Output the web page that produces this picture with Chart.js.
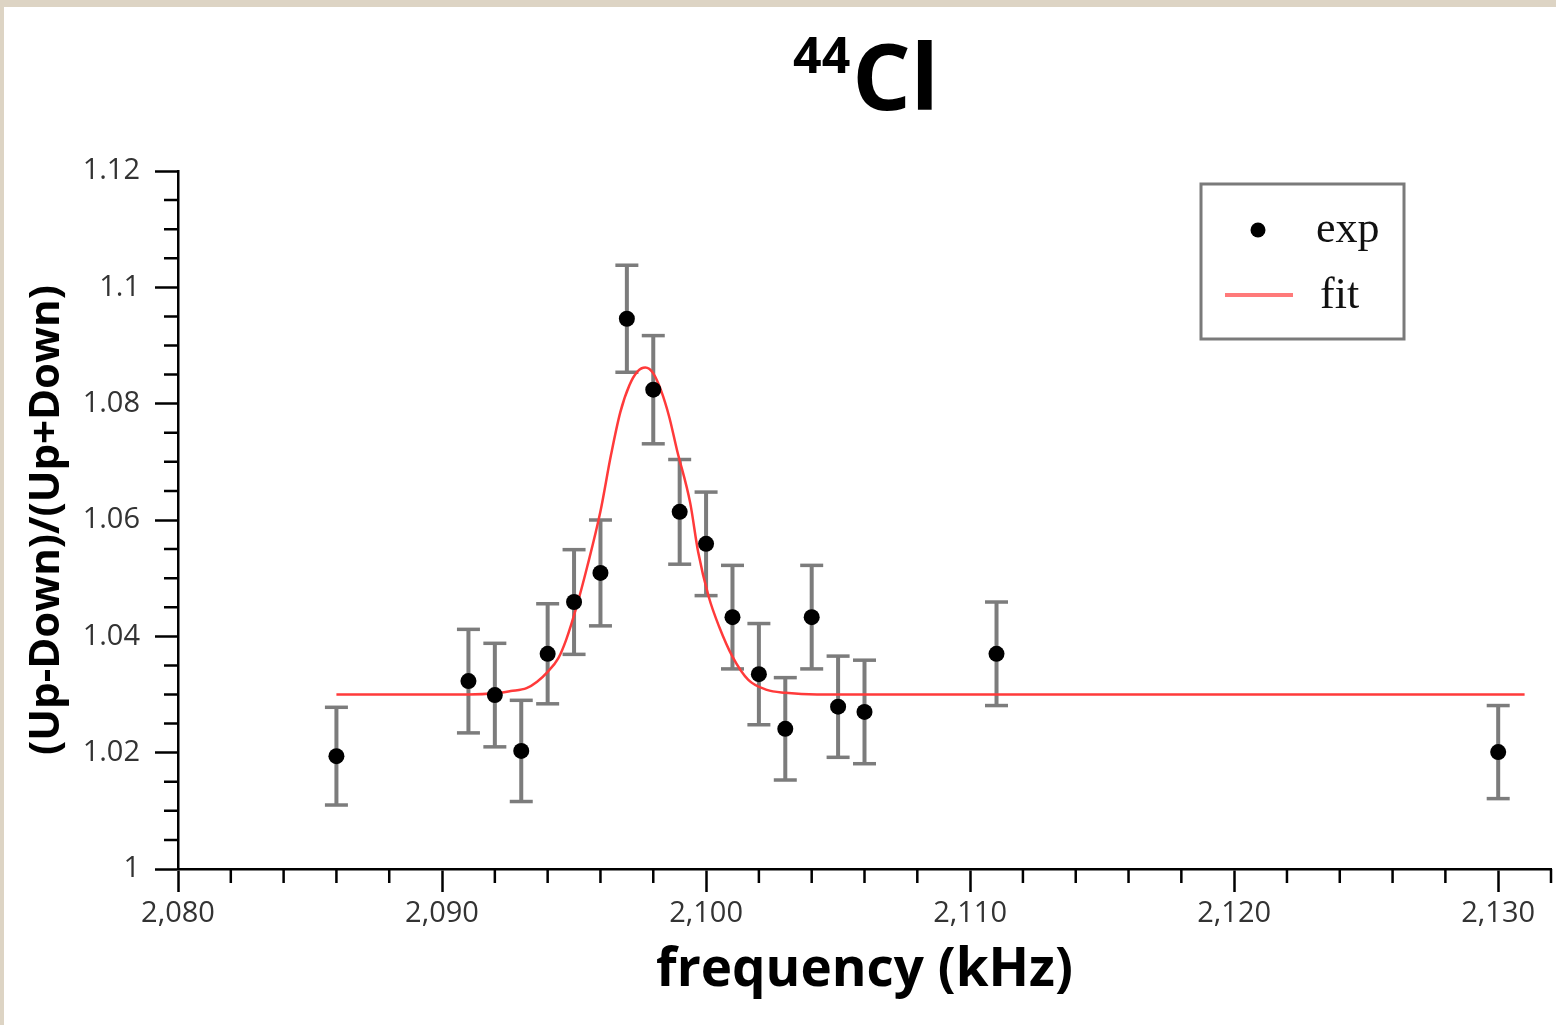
<!DOCTYPE html>
<html>
<head>
<meta charset="utf-8">
<title>44Cl resonance</title>
<script src="https://cdn.jsdelivr.net/npm/chart.js@4.4.1/dist/chart.umd.min.js"></script>
<style>
  html, body { margin: 0; padding: 0; background: #fff; }
  #wrap { width: 1556px; height: 1025px; }
</style>
</head>
<body>
<div id="wrap"><canvas id="chart" width="1556" height="1025"></canvas></div>
<script>
// measured points (frequency in kHz)
const expX = [2086, 2091, 2092, 2093, 2094, 2095, 2096, 2097, 2098, 2099, 2100, 2101, 2102, 2103, 2104, 2105, 2106, 2111, 2130]
const expY = [1.0194, 1.0323, 1.0299, 1.0203, 1.0370, 1.0459, 1.0509, 1.0946, 1.0824, 1.0614, 1.0559, 1.0433, 1.0335, 1.0241, 1.0433, 1.0279, 1.0270, 1.0370, 1.0201]
const expErr = [0.0084, 0.0089, 0.0089, 0.0087, 0.0086, 0.0090, 0.0091, 0.0092, 0.0093, 0.0090, 0.0089, 0.0089, 0.0087, 0.0088, 0.0089, 0.0087, 0.0089, 0.0089, 0.0080]

// fit curve
const fitX = [2086, 2091, 2092, 2092.6, 2093.2, 2093.6, 2094, 2094.4, 2094.7, 2095.1, 2095.5, 2096, 2096.4, 2096.75, 2097.1, 2097.4, 2097.7, 2098, 2098.3, 2098.6, 2098.9, 2099.4, 2099.7, 2100.1, 2100.5, 2101, 2101.6, 2102.3, 2103, 2104.2, 2131]
const fitY = [1.0300, 1.0300, 1.0302, 1.0306, 1.0311, 1.0322, 1.0339, 1.0362, 1.0394, 1.0452, 1.0520, 1.0615, 1.0712, 1.0785, 1.0832, 1.0855, 1.0862, 1.0852, 1.0822, 1.0778, 1.0720, 1.0629, 1.0545, 1.0468, 1.0416, 1.0365, 1.0325, 1.0308, 1.0303, 1.0300, 1.0300]

// axes
const xMin = 2080, xMax = 2132, xStep = 10, xMinor = 2
const yMin = 1, yMax = 1.12, yStep = 0.02, yMinor = 0.005

const titleSup = '44'
const titleMain = 'Cl'
const xTitle = 'frequency (kHz)'
const yTitle = '(Up-Down)/(Up+Down)'
const legendLabels = ['exp', 'fit']

const expPoints = expX.map((x, i) => ({x: x, y: expY[i]}))
const fitPoints = fitX.map((x, i) => ({x: x, y: fitY[i]}))
// each error bar: low, high, then a gap
const errPoints = []
expX.forEach((x, i) => {
    errPoints.push({x: x, y: expY[i] - expErr[i]})
    errPoints.push({x: x, y: expY[i] + expErr[i]})
    errPoints.push({x: x, y: null})
})

const pageDecor = {
    id: 'pageDecor',
    beforeDraw(chart) {
        const ctx = chart.ctx
        ctx.save()
        ctx.fillStyle = '#ddd4c4'
        ctx.fillRect(0, 0, chart.width, chart.height)
        ctx.fillStyle = '#ffffff'
        ctx.fillRect(4, 7, chart.width - 4, chart.height - 7)
        ctx.restore()
    },
    afterDraw(chart) {
        const ctx = chart.ctx
        const xs = chart.scales.x, ys = chart.scales.y
        ctx.save()
        // minor ticks
        ctx.strokeStyle = '#000'
        ctx.lineWidth = 2.5
        ctx.beginPath()
        for (let v = yMin; v <= yMax + 1e-9; v += yMinor) {
            const r = Math.round(v * 1000) / 1000
            if (Math.abs(r / yStep - Math.round(r / yStep)) < 1e-6) continue
            const py = ys.getPixelForValue(r)
            ctx.moveTo(xs.left - 14, py)
            ctx.lineTo(xs.left, py)
        }
        for (let v = xMin; v <= xMax; v += xMinor) {
            if (v % xStep === 0) continue
            const px = xs.getPixelForValue(v)
            ctx.moveTo(px, ys.bottom)
            ctx.lineTo(px, ys.bottom + 14)
        }
        ctx.stroke()

        // title with superscript mass number
        ctx.fillStyle = '#000'
        ctx.textBaseline = 'alphabetic'
        ctx.font = 'bold 50px "Open Sans"'
        const wSup = ctx.measureText(titleSup).width
        ctx.font = 'bold 92px "Open Sans"'
        const wMain = ctx.measureText(titleMain).width
        const start = 866 - (wSup + 2 + wMain) / 2
        ctx.font = 'bold 50px "Open Sans"'
        ctx.fillText(titleSup, start, 73)
        ctx.font = 'bold 92px "Open Sans"'
        ctx.fillText(titleMain, start + wSup + 2, 110)

        // legend box
        ctx.strokeStyle = '#7a7a7a'
        ctx.lineWidth = 3
        ctx.strokeRect(1201, 184, 203, 155)
        ctx.fillStyle = '#000'
        ctx.beginPath()
        ctx.arc(1258, 230, 7.5, 0, Math.PI * 2)
        ctx.fill()
        ctx.strokeStyle = '#ff7a7a'
        ctx.lineWidth = 4
        ctx.beginPath()
        ctx.moveTo(1225, 295)
        ctx.lineTo(1293, 295)
        ctx.stroke()
        ctx.fillStyle = '#111'
        ctx.font = '44px "Liberation Serif"'
        ctx.textBaseline = 'alphabetic'
        ctx.fillText(legendLabels[0], 1316, 242)
        ctx.fillText(legendLabels[1], 1320, 308)
        ctx.restore()
    }
}

new Chart(document.getElementById('chart'), {
    type: 'scatter',
    data: {
        datasets: [
            {
                label: 'exp',
                data: expPoints,
                pointRadius: 8,
                pointHoverRadius: 8,
                pointBackgroundColor: '#000',
                pointBorderWidth: 0
            },
            {
                label: 'fit',
                type: 'line',
                data: fitPoints,
                borderColor: '#ff3a3a',
                borderWidth: 2.5,
                pointRadius: 0,
                cubicInterpolationMode: 'monotone',
                fill: false
            },
            {
                label: 'err',
                type: 'line',
                data: errPoints,
                borderColor: '#7c7c7c',
                borderWidth: 4,
                spanGaps: false,
                pointStyle: 'line',
                pointRadius: 11.5,
                pointBorderColor: '#7c7c7c',
                pointBorderWidth: 3.5,
                fill: false
            }
        ]
    },
    options: {
        responsive: false,
        animation: false,
        devicePixelRatio: 1,
        layout: { autoPadding: false, padding: { top: 171, right: 5, left: 0, bottom: 0 } },
        plugins: {
            legend: { display: false },
            tooltip: { enabled: false }
        },
        scales: {
            x: {
                type: 'linear',
                min: xMin,
                max: xMax,
                offset: false,
                afterFit: s => { s.height = 156; s.paddingLeft = 0; s.paddingRight = 0 },
                border: { color: '#000', width: 2.5 },
                grid: { drawOnChartArea: false, offset: false, tickLength: 23, tickColor: '#000', tickWidth: 2.5 },
                ticks: {
                    stepSize: xStep,
                    includeBounds: false,
                    padding: 4,
                    color: '#333',
                    font: { family: 'Open Sans', size: 29 },
                    maxRotation: 0,
                    callback: v => v.toLocaleString('en-US')
                },
                title: {
                    display: true,
                    text: xTitle,
                    color: '#000',
                    font: { family: 'Open Sans', size: 53, weight: 'bold' },
                    padding: { top: 0, bottom: 22 }
                }
            },
            y: {
                type: 'linear',
                min: yMin,
                max: yMax,
                afterFit: s => { s.width = 178 },
                border: { color: '#000', width: 2.5 },
                grid: { drawOnChartArea: false, tickLength: 23, tickColor: '#000', tickWidth: 2.5 },
                ticks: {
                    stepSize: yStep,
                    padding: 15,
                    color: '#333',
                    font: { family: 'Open Sans', size: 29 },
                    callback: v => String(Math.round(v * 1000) / 1000)
                },
                title: {
                    display: true,
                    text: yTitle,
                    color: '#000',
                    font: { family: 'Open Sans', size: 42, weight: 'bold' },
                    padding: { top: 22, bottom: 0 }
                }
            }
        }
    },
    plugins: [pageDecor]
})
</script>
</body>
</html>
